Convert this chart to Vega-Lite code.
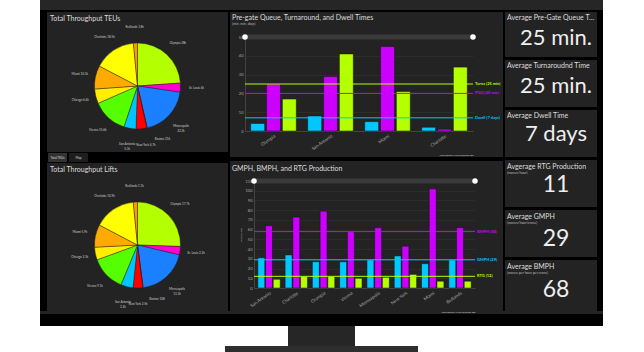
{
  "$schema": "https://vega.github.io/schema/vega-lite/v6.json",
  "background": "#232323",
  "padding": 0,
  "spacing": 0,
  "resolve": {"scale": {"color": "independent", "theta": "independent", "x": "independent", "y": "independent", "xOffset": "independent"}},
  "config": {
    "view": {"stroke": null},
    "concat": {"spacing": 0},
    "font": "Lato",
    "title": {"color": "#dddddd", "fontSize": 7, "fontWeight": "normal", "anchor": "start", "frame": "group", "subtitleColor": "#bbbbbb", "subtitleFontSize": 3.5, "subtitlePadding": 1},
    "axis": {"labelColor": "#aaaaaa", "labelFontSize": 4, "domainColor": "#444444", "tickColor": "#444444", "gridColor": "#333333", "gridWidth": 0.6, "titleColor": "#bbbbbb", "titleFontWeight": "normal"}
  },
  "hconcat": [
    {"width": 40, "height": 352, "data": {"values": []}, "mark": "rect", "view": {"fill": "#ffffff"}},
    {
      "spacing": 0,
      "resolve": {"scale": {"color": "independent", "theta": "independent", "x": "independent", "y": "independent", "xOffset": "independent"}},
      "vconcat": [
        {"width": 563, "height": 10, "data": {"values": []}, "mark": "rect", "view": {"fill": "#262626"}},
        {"width": 563, "height": 2, "data": {"values": []}, "mark": "rect", "view": {"fill": "#000000"}},
        {
          "spacing": 0,
          "resolve": {"scale": {"color": "independent", "theta": "independent", "x": "independent", "y": "independent", "xOffset": "independent"}},
          "hconcat": [
            {"width": 7, "height": 299, "data": {"values": []}, "mark": "rect", "view": {"fill": "#000000"}},
            {
              "spacing": 0,
              "resolve": {"scale": {"color": "independent", "theta": "independent", "x": "independent", "y": "independent", "xOffset": "independent"}},
              "vconcat": [
                {
                  "width": 181, "height": 138,
                  "title": {"text": "Total Throughput TEUs", "offset": -10, "dx": 3},
                  "data": {"values": [
                    {"o": 1, "city": "Olympia", "value": 28000, "label": "Olympia 28k"},
                    {"o": 2, "city": "St. Louis", "value": 4000, "label": "St. Louis 4k"},
                    {"o": 3, "city": "Minneapolis", "value": 22300, "label": "Minneapolis\n22.3k"},
                    {"o": 4, "city": "Boston", "value": 216, "label": "Boston 216"},
                    {"o": 5, "city": "New York", "value": 4700, "label": "New York 4.7k"},
                    {"o": 6, "city": "San Antonio", "value": 5300, "label": "San Antonio\n5.3k"},
                    {"o": 7, "city": "Vienna", "value": 15600, "label": "Vienna 15.6k"},
                    {"o": 8, "city": "Chicago", "value": 6400, "label": "Chicago 6.4k"},
                    {"o": 9, "city": "Miami", "value": 10300, "label": "Miami 10.3k"},
                    {"o": 10, "city": "Charlotte", "value": 18500, "label": "Charlotte 18.5k"},
                    {"o": 11, "city": "Redlands", "value": 1800, "label": "Redlands 1.8k"}
                  ]},
                  "encoding": {
                    "theta": {"field": "value", "type": "quantitative", "stack": true},
                    "order": {"field": "o", "type": "quantitative"}
                  },
                  "layer": [
                    {"mark": {"type": "arc", "outerRadius": 43, "yOffset": 5, "stroke": "#1a1a1a", "strokeWidth": 0.4},
                     "encoding": {"color": {"field": "city", "type": "nominal", "legend": null,
                       "scale": {"domain": ["Olympia", "St. Louis", "Minneapolis", "Boston", "New York", "San Antonio", "Vienna", "Chicago", "Miami", "Charlotte", "Redlands"],
                                 "range": ["#b4ff00", "#ff00cc", "#1a80ff", "#ff3300", "#ff0000", "#00c3ff", "#55ff00", "#ffee00", "#ffaa00", "#ffff00", "#ff9900"]}}}},
                    {"mark": {"type": "text", "radius": 59, "yOffset": 5, "fontSize": 3, "color": "#cccccc", "lineBreak": "\n"},
                     "encoding": {"text": {"condition": {"test": "datum.city !== 'Boston' && datum.city !== 'New York'", "field": "label"}, "value": ""}}},
                    {"mark": {"type": "text", "radius": 59, "yOffset": 5, "dx": 3, "fontSize": 3, "color": "#cccccc"},
                     "encoding": {"text": {"condition": {"test": "datum.city === 'New York'", "field": "label"}, "value": ""}}},
                    {"mark": {"type": "text", "radius": 59, "yOffset": 5, "dx": 12, "dy": -5, "fontSize": 3, "color": "#cccccc"},
                     "encoding": {"text": {"condition": {"test": "datum.city === 'Boston'", "field": "label"}, "value": ""}}}
                  ]
                },
                {"width": 181, "height": 1, "data": {"values": []}, "mark": "rect", "view": {"fill": "#000000"}},
                {
                  "spacing": 0,
                  "resolve": {"scale": {"color": "independent", "x": "independent"}},
                  "hconcat": [
                    {
                      "width": 42, "height": 9,
                      "view": {"fill": "#000000"},
                      "data": {"values": [{"tab": "Total TEUs"}, {"tab": "Map"}]},
                      "encoding": {"x": {"field": "tab", "type": "nominal", "sort": null, "axis": null, "scale": {"paddingInner": 0.1, "paddingOuter": 0.05}}},
                      "layer": [
                        {"mark": {"type": "bar"}, "encoding": {"color": {"field": "tab", "type": "nominal", "legend": null, "scale": {"domain": ["Total TEUs", "Map"], "range": ["#333333", "#1e1e1e"]}}}},
                        {"mark": {"type": "text", "fontSize": 3, "color": "#dddddd"}, "encoding": {"text": {"field": "tab"}}}
                      ]
                    },
                    {"width": 139, "height": 9, "data": {"values": []}, "mark": "rect", "view": {"fill": "#000000"}}
                  ]
                },
                {"width": 181, "height": 1, "data": {"values": []}, "mark": "rect", "view": {"fill": "#000000"}},
                {
                  "width": 181, "height": 150,
                  "title": {"text": "Total Throughput Lifts", "offset": -10, "dx": 3},
                  "data": {"values": [
                    {"o": 1, "city": "Olympia", "value": 17700, "label": "Olympia 17.7k"},
                    {"o": 2, "city": "St. Louis", "value": 2200, "label": "St. Louis 2.2k"},
                    {"o": 3, "city": "Minneapolis", "value": 13300, "label": "Minneapolis\n13.3k"},
                    {"o": 4, "city": "Boston", "value": 108, "label": "Boston 108"},
                    {"o": 5, "city": "New York", "value": 2500, "label": "New York 2.5k"},
                    {"o": 6, "city": "San Antonio", "value": 3200, "label": "San Antonio\n3.2k"},
                    {"o": 7, "city": "Vienna", "value": 9100, "label": "Vienna 9.1k"},
                    {"o": 8, "city": "Chicago", "value": 3300, "label": "Chicago 3.3k"},
                    {"o": 9, "city": "Miami", "value": 5900, "label": "Miami 5.9k"},
                    {"o": 10, "city": "Charlotte", "value": 10900, "label": "Charlotte 10.9k"},
                    {"o": 11, "city": "Redlands", "value": 1100, "label": "Redlands 1.1k"}
                  ]},
                  "encoding": {
                    "theta": {"field": "value", "type": "quantitative", "stack": true},
                    "order": {"field": "o", "type": "quantitative"}
                  },
                  "layer": [
                    {"mark": {"type": "arc", "outerRadius": 43, "yOffset": 7, "stroke": "#1a1a1a", "strokeWidth": 0.4},
                     "encoding": {"color": {"field": "city", "type": "nominal", "legend": null,
                       "scale": {"domain": ["Olympia", "St. Louis", "Minneapolis", "Boston", "New York", "San Antonio", "Vienna", "Chicago", "Miami", "Charlotte", "Redlands"],
                                 "range": ["#b4ff00", "#ff00cc", "#1a80ff", "#ff3300", "#ff0000", "#00c3ff", "#55ff00", "#ffee00", "#ffaa00", "#ffff00", "#ff9900"]}}}},
                    {"mark": {"type": "text", "radius": 59, "yOffset": 7, "fontSize": 3, "color": "#cccccc", "lineBreak": "\n"},
                     "encoding": {"text": {"condition": {"test": "datum.city !== 'Boston'", "field": "label"}, "value": ""}}},
                    {"mark": {"type": "text", "radius": 59, "yOffset": 7, "dx": 12, "dy": -5, "fontSize": 3, "color": "#cccccc"},
                     "encoding": {"text": {"condition": {"test": "datum.city === 'Boston'", "field": "label"}, "value": ""}}}
                  ]
                }
              ]
            },
            {"width": 2, "height": 299, "data": {"values": []}, "mark": "rect", "view": {"fill": "#000000"}},
            {
              "spacing": 0,
              "resolve": {"scale": {"color": "independent", "x": "independent", "y": "independent", "xOffset": "independent"}},
              "vconcat": [
                {
                  "width": 273, "height": 143,
                  "title": {"text": "Pre-gate Queue, Turnaround, and Dwell Times", "subtitle": "(min, min, days)", "dx": 2, "offset": -13.5},
                  "encoding": {"y": {"field": "value", "type": "quantitative", "title": null,
                    "scale": {"domain": [0, 50], "nice": false, "range": [119, 25]},
                    "axis": {"values": [0, 10, 20, 30, 40, 50], "ticks": false, "labelPadding": 2, "offset": -15}}},
                  "resolve": {"scale": {"x": "independent"}, "axis": {"x": "independent"}},
                  "layer": [
                    {"data": {"values": [{"value": 50}]},
                     "encoding": {"x": {"datum": 0, "type": "quantitative", "scale": {"domain": [0, 1], "range": [15, 243]}, "axis": null}},
                     "layer": [
                       {"mark": {"type": "rule", "color": "#3a3a3a", "strokeWidth": 5}, "encoding": {"x2": {"datum": 1}}},
                       {"mark": {"type": "point", "filled": true, "color": "#ffffff", "opacity": 1, "size": 30}},
                       {"mark": {"type": "point", "filled": true, "color": "#ffffff", "opacity": 1, "size": 30},
                        "encoding": {"x": {"datum": 1, "type": "quantitative", "scale": {"domain": [0, 1], "range": [15, 243]}, "axis": null}}}
                     ]},
                    {"data": {"values": [
                      {"city": "Olympia", "metric": "Dwell", "value": 4},
                      {"city": "Olympia", "metric": "PGQ", "value": 25},
                      {"city": "Olympia", "metric": "Turna", "value": 17},
                      {"city": "San Antonio", "metric": "Dwell", "value": 8},
                      {"city": "San Antonio", "metric": "PGQ", "value": 29},
                      {"city": "San Antonio", "metric": "Turna", "value": 41},
                      {"city": "Miami", "metric": "Dwell", "value": 5},
                      {"city": "Miami", "metric": "PGQ", "value": 45},
                      {"city": "Miami", "metric": "Turna", "value": 21},
                      {"city": "Charlotte", "metric": "Dwell", "value": 2},
                      {"city": "Charlotte", "metric": "PGQ", "value": 1},
                      {"city": "Charlotte", "metric": "Turna", "value": 34}
                    ]},
                     "mark": {"type": "bar", "stroke": "#111111", "strokeWidth": 0.5},
                     "encoding": {
                       "x": {"field": "city", "type": "nominal", "sort": null, "scale": {"range": [15, 243], "paddingInner": 0.2, "paddingOuter": 0.1},
                         "axis": {"offset": -24, "labelAngle": -35, "ticks": false, "labelPadding": 2, "labelFontSize": 4.5, "title": "Last update: a few seconds ago", "titleFontSize": 2.5, "titleAnchor": "end", "titleColor": "#cccccc", "titlePadding": 3}},
                       "xOffset": {"field": "metric", "type": "nominal", "sort": ["Dwell", "PGQ", "Turna"], "scale": {"paddingInner": 0.12}},
                       "color": {"field": "metric", "type": "nominal", "legend": null, "scale": {"domain": ["Dwell", "PGQ", "Turna"], "range": ["#00c8ff", "#cc00ff", "#b4ff00"]}}
                     }},
                    {"data": {"values": [
                      {"metric": "Turna", "value": 25, "label": "Turna (25 min)"},
                      {"metric": "PGQ", "value": 20, "label": "PGQ (20 min)"},
                      {"metric": "Dwell", "value": 7, "label": "Dwell (7 days)"}
                    ]},
                     "encoding": {"color": {"field": "metric", "type": "nominal", "legend": null, "scale": {"domain": ["Dwell", "PGQ", "Turna"], "range": ["#00c8ff", "#cc00ff", "#b4ff00"]}}},
                     "layer": [
                       {"mark": {"type": "rule", "strokeWidth": 1},
                        "encoding": {"x": {"datum": 0, "type": "quantitative", "scale": {"domain": [0, 1], "range": [15, 243]}, "axis": null}, "x2": {"datum": 1}}},
                       {"mark": {"type": "text", "align": "left", "dx": 2, "fontSize": 4, "fontWeight": "bold", "limit": 28, "ellipsis": ""},
                        "encoding": {"x": {"datum": 1, "type": "quantitative", "scale": {"domain": [0, 1], "range": [15, 243]}, "axis": null}, "text": {"field": "label"}}}
                     ]}
                  ]
                },
                {"width": 273, "height": 4, "data": {"values": []}, "mark": "rect", "view": {"fill": "#000000"}},
                {
                  "width": 273, "height": 152,
                  "title": {"text": "GMPH, BMPH, and RTG Production", "dx": 2, "offset": -10.5},
                  "encoding": {"y": {"field": "value", "type": "quantitative", "title": "Moves/Hour",
                    "scale": {"domain": [0, 110], "nice": false, "range": [127, 20]},
                    "axis": {"values": [0, 10, 20, 30, 40, 50, 60, 70, 80, 90, 100, 110], "ticks": false, "labelPadding": 2, "titleFontSize": 2.5, "titlePadding": 2, "offset": -24}}},
                  "resolve": {"scale": {"x": "independent"}, "axis": {"x": "independent"}},
                  "layer": [
                    {"data": {"values": [{"value": 110}]},
                     "encoding": {"x": {"datum": 0, "type": "quantitative", "scale": {"domain": [0, 1], "range": [24, 245]}, "axis": null}},
                     "layer": [
                       {"mark": {"type": "rule", "color": "#3a3a3a", "strokeWidth": 5}, "encoding": {"x2": {"datum": 1}}},
                       {"mark": {"type": "point", "filled": true, "color": "#ffffff", "opacity": 1, "size": 30}},
                       {"mark": {"type": "point", "filled": true, "color": "#ffffff", "opacity": 1, "size": 30},
                        "encoding": {"x": {"datum": 1, "type": "quantitative", "scale": {"domain": [0, 1], "range": [24, 245]}, "axis": null}}}
                     ]},
                    {"data": {"values": [
                      {"city": "San Antonio", "metric": "GMPH", "value": 31},
                      {"city": "San Antonio", "metric": "BMPH", "value": 64},
                      {"city": "San Antonio", "metric": "RTG", "value": 9},
                      {"city": "Charlotte", "metric": "GMPH", "value": 34},
                      {"city": "Charlotte", "metric": "BMPH", "value": 73},
                      {"city": "Charlotte", "metric": "RTG", "value": 12},
                      {"city": "Olympia", "metric": "GMPH", "value": 27},
                      {"city": "Olympia", "metric": "BMPH", "value": 79},
                      {"city": "Olympia", "metric": "RTG", "value": 12},
                      {"city": "Vienna", "metric": "GMPH", "value": 27},
                      {"city": "Vienna", "metric": "BMPH", "value": 58},
                      {"city": "Vienna", "metric": "RTG", "value": 10},
                      {"city": "Minneapolis", "metric": "GMPH", "value": 29},
                      {"city": "Minneapolis", "metric": "BMPH", "value": 62},
                      {"city": "Minneapolis", "metric": "RTG", "value": 11},
                      {"city": "New York", "metric": "GMPH", "value": 33},
                      {"city": "New York", "metric": "BMPH", "value": 43},
                      {"city": "New York", "metric": "RTG", "value": 14},
                      {"city": "Miami", "metric": "GMPH", "value": 25},
                      {"city": "Miami", "metric": "BMPH", "value": 102},
                      {"city": "Miami", "metric": "RTG", "value": 7},
                      {"city": "Redlands", "metric": "GMPH", "value": 29},
                      {"city": "Redlands", "metric": "BMPH", "value": 62},
                      {"city": "Redlands", "metric": "RTG", "value": 7}
                    ]},
                     "mark": {"type": "bar", "stroke": "#111111", "strokeWidth": 0.5},
                     "encoding": {
                       "x": {"field": "city", "type": "nominal", "sort": null, "scale": {"range": [24, 245], "paddingInner": 0.18, "paddingOuter": 0.14},
                         "axis": {"offset": -25, "labelAngle": -35, "ticks": false, "labelPadding": 2, "labelFontSize": 4.5, "title": "Last update: a few seconds ago", "titleFontSize": 2.5, "titleAnchor": "end", "titleColor": "#cccccc", "titlePadding": 3}},
                       "xOffset": {"field": "metric", "type": "nominal", "sort": ["GMPH", "BMPH", "RTG"], "scale": {"paddingInner": 0.1}},
                       "color": {"field": "metric", "type": "nominal", "legend": null, "scale": {"domain": ["GMPH", "BMPH", "RTG"], "range": ["#00c8ff", "#cc00ff", "#b4ff00"]}}
                     }},
                    {"data": {"values": [
                      {"metric": "BMPH", "value": 58, "label": "BMPH (58)"},
                      {"metric": "GMPH", "value": 29, "label": "GMPH (29)"},
                      {"metric": "RTG", "value": 12, "label": "RTG (12)"}
                    ]},
                     "encoding": {"color": {"field": "metric", "type": "nominal", "legend": null, "scale": {"domain": ["GMPH", "BMPH", "RTG"], "range": ["#00c8ff", "#cc00ff", "#b4ff00"]}}},
                     "layer": [
                       {"mark": {"type": "rule", "strokeWidth": 1},
                        "encoding": {"x": {"datum": 0, "type": "quantitative", "scale": {"domain": [0, 1], "range": [24, 245]}, "axis": null}, "x2": {"datum": 1}}},
                       {"mark": {"type": "text", "align": "left", "dx": 2, "fontSize": 4, "fontWeight": "bold", "limit": 26, "ellipsis": ""},
                        "encoding": {"x": {"datum": 1, "type": "quantitative", "scale": {"domain": [0, 1], "range": [24, 245]}, "axis": null}, "text": {"field": "label"}}}
                     ]}
                  ]
                }
              ]
            },
            {"width": 2, "height": 299, "data": {"values": []}, "mark": "rect", "view": {"fill": "#000000"}},
            {
              "spacing": 0,
              "vconcat": [
                {"width": 92, "height": 45,
                 "title": {"text": "Average Pre-Gate Queue Time", "offset": -9, "dx": 2, "limit": 89},
                 "data": {"values": [{"v": "25 min."}]},
                 "mark": {"type": "text", "fontSize": 22, "color": "#eeeeee", "dx": 5, "dy": 3.5},
                 "encoding": {"text": {"field": "v"}}},
                {"width": 92, "height": 3, "data": {"values": []}, "mark": "rect", "view": {"fill": "#000000"}},
                {"width": 92, "height": 47,
                 "title": {"text": "Average Turnaroudnd Time", "offset": -9, "dx": 2, "limit": 89},
                 "data": {"values": [{"v": "25 min."}]},
                 "mark": {"type": "text", "fontSize": 22, "color": "#eeeeee", "dx": 5, "dy": 2},
                 "encoding": {"text": {"field": "v"}}},
                {"width": 92, "height": 3, "data": {"values": []}, "mark": "rect", "view": {"fill": "#000000"}},
                {"width": 92, "height": 47,
                 "title": {"text": "Average Dwell Time", "offset": -9, "dx": 2, "limit": 89},
                 "data": {"values": [{"v": "7 days"}]},
                 "mark": {"type": "text", "fontSize": 22, "color": "#eeeeee", "dx": 5, "dy": 0},
                 "encoding": {"text": {"field": "v"}}},
                {"width": 92, "height": 3, "data": {"values": []}, "mark": "rect", "view": {"fill": "#000000"}},
                {"width": 92, "height": 47,
                 "title": {"text": "Avgerage RTG Production", "subtitle": "(moves/hour)", "offset": -14, "dx": 2, "limit": 89},
                 "data": {"values": [{"v": "11"}]},
                 "mark": {"type": "text", "fontSize": 23, "color": "#eeeeee", "dx": 5, "dy": 1.5},
                 "encoding": {"text": {"field": "v"}}},
                {"width": 92, "height": 3, "data": {"values": []}, "mark": "rect", "view": {"fill": "#000000"}},
                {"width": 92, "height": 47,
                 "title": {"text": "Average GMPH", "subtitle": "(moves/hour/crane)", "offset": -14, "dx": 2, "limit": 89},
                 "data": {"values": [{"v": "29"}]},
                 "mark": {"type": "text", "fontSize": 23, "color": "#eeeeee", "dx": 5, "dy": 5.5},
                 "encoding": {"text": {"field": "v"}}},
                {"width": 92, "height": 3, "data": {"values": []}, "mark": "rect", "view": {"fill": "#000000"}},
                {"width": 92, "height": 51,
                 "title": {"text": "Average BMPH", "subtitle": "(moves per hour per crane)", "offset": -14, "dx": 2, "limit": 89},
                 "data": {"values": [{"v": "68"}]},
                 "mark": {"type": "text", "fontSize": 23, "color": "#eeeeee", "dx": 5, "dy": 4.5},
                 "encoding": {"text": {"field": "v"}}}
              ]
            },
            {"width": 6, "height": 299, "data": {"values": []}, "mark": "rect", "view": {"fill": "#000000"}}
          ]
        },
        {"width": 563, "height": 12, "data": {"values": []}, "mark": "rect", "view": {"fill": "#000000"}},
        {
          "spacing": 0,
          "hconcat": [
            {"width": 248, "height": 20, "data": {"values": []}, "mark": "rect", "view": {"fill": "#ffffff"}},
            {"width": 67, "height": 20, "data": {"values": []}, "mark": "rect", "view": {"fill": "#262626"}},
            {"width": 248, "height": 20, "data": {"values": []}, "mark": "rect", "view": {"fill": "#ffffff"}}
          ]
        },
        {
          "spacing": 0,
          "hconcat": [
            {"width": 185, "height": 7, "data": {"values": []}, "mark": "rect", "view": {"fill": "#ffffff"}},
            {"width": 193, "height": 7, "data": {"values": []}, "mark": "rect", "view": {"fill": "#2e2e2e"}},
            {"width": 185, "height": 7, "data": {"values": []}, "mark": "rect", "view": {"fill": "#ffffff"}}
          ]
        },
        {"width": 563, "height": 2, "data": {"values": []}, "mark": "rect", "view": {"fill": "#ffffff"}}
      ]
    },
    {"width": 41, "height": 352, "data": {"values": []}, "mark": "rect", "view": {"fill": "#ffffff"}}
  ]
}
